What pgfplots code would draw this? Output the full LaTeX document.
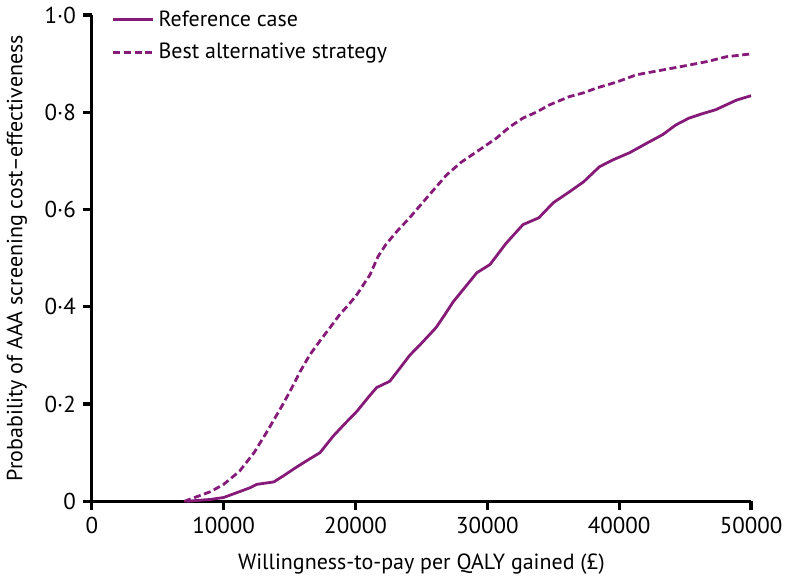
\documentclass[border=0pt]{standalone}
\usepackage{fontspec}
\setmainfont{PT Sans}
\usepackage{pgfplots}
\pgfplotsset{compat=1.18}
\definecolor{aaapurple}{HTML}{861A78}

\begin{document}
\begin{tikzpicture}
\begin{axis}[
  scale only axis, width=330pt, height=243.5pt,
  xmin=0, xmax=50000, ymin=0, ymax=1,
  axis lines=left, axis line style={line width=1.6pt,-},
  every tick/.style={line width=1.6pt,black},
  tick align=outside, major tick length=4.5pt,
  xtick={0,10000,20000,30000,40000,50000},
  scaled x ticks=false,
  ytick={0,0.2,0.4,0.6,0.8,1},
  yticklabels={0,0·2,0·4,0·6,0·8,1·0},
  /pgf/number format/assume math mode=true,
  /pgf/number format/1000 sep={},
  tick label style={font=\fontsize{11.5}{13}\selectfont},
  label style={font=\fontsize{11}{13}\selectfont},
  xlabel={Willingness-to-pay per QALY gained (£)},
  ylabel={Probability of AAA screening cost–effectiveness},
  xlabel style={yshift=-3pt},
  ylabel style={yshift=2pt},
  clip=false,
  legend cell align=left,
  legend style={draw=none, fill=none, inner sep=0pt, at={(0.03,1.018)}, anchor=north west,
    font=\fontsize{11}{13}\selectfont, row sep=3pt},
  legend image code/.code={\draw[#1] (0cm,0cm) -- (0.7cm,0cm);},
]
\addplot[aaapurple, line width=1.4pt] coordinates {
(7200,0) (8000,0.002) (9000,0.004) (10000,0.008) (11000,0.018) (12000,0.028)
(12500,0.035) (13800,0.04) (14500,0.052) (15500,0.07) (16500,0.087) (17300,0.10)
(18300,0.134) (19200,0.16) (20100,0.185) (21000,0.215) (21600,0.234) (22600,0.247)
(23400,0.275) (24100,0.30) (25000,0.325) (26100,0.357) (26800,0.385) (27400,0.41)
(28300,0.44) (29200,0.47) (30200,0.487) (31400,0.53) (32700,0.569) (33900,0.583)
(35000,0.614) (36200,0.636) (37300,0.657) (38500,0.688) (39600,0.703) (40800,0.717)
(42000,0.735) (43300,0.754) (44300,0.774) (45300,0.788) (46300,0.797) (47300,0.805)
(48100,0.815) (48900,0.825) (50000,0.834)
};
\addlegendentry{Reference case}
\addplot[aaapurple, line width=1.4pt, dash pattern=on 3.5pt off 1.8pt] coordinates {
(7000,0) (8000,0.01) (9000,0.02) (10000,0.035) (11200,0.062) (12300,0.10)
(13300,0.144) (14500,0.20) (15200,0.235) (15800,0.267) (16500,0.30) (17300,0.33)
(18000,0.355) (18800,0.384) (19500,0.405) (20100,0.425) (21100,0.466) (21700,0.503)
(22300,0.528) (23100,0.554) (24100,0.583) (25400,0.624) (26900,0.671) (28000,0.697)
(29200,0.719) (30700,0.747) (31700,0.77) (32700,0.788) (33700,0.80) (34700,0.815)
(36200,0.832) (37300,0.84) (38300,0.850) (39800,0.862) (41300,0.877) (43300,0.887)
(45300,0.897) (46800,0.905) (48100,0.914) (50000,0.920)
};
\addlegendentry{Best alternative strategy}
\end{axis}
\end{tikzpicture}
\end{document}
